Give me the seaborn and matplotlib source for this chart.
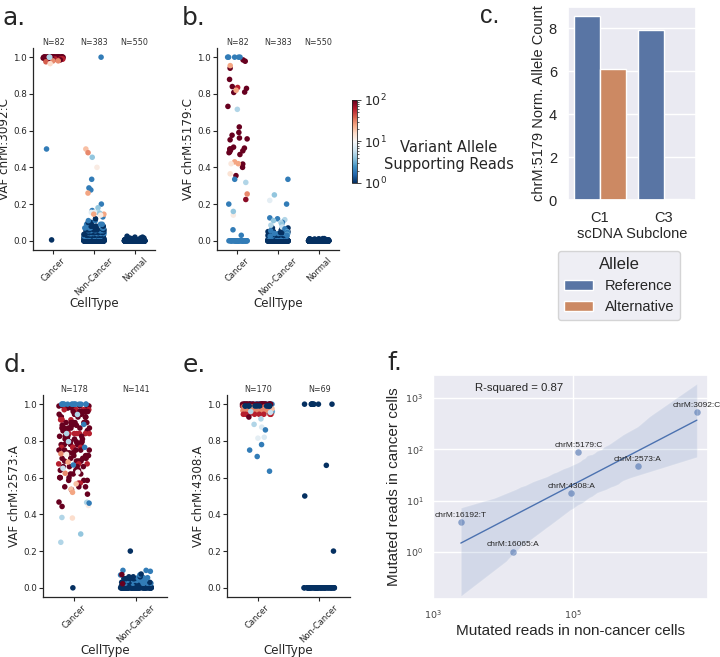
import numpy as np
import pandas as pd
import matplotlib
matplotlib.use("Agg")
import matplotlib.pyplot as plt
from matplotlib.colors import LogNorm
from matplotlib.cm import ScalarMappable
import seaborn as sns

# ---------------- data: (VAF, alt supporting reads, number of cells) ----------------
cell_types = ["Cancer", "Non-Cancer", "Normal"]

# a. chrM:3092:C
a_cancer_vaf = [1.0, 0.995, 0.99, 0.985, 0.98, 0.975, 0.965, 1.0, 0.5, 0.005]
a_cancer_reads = [100, 100, 60, 100, 30, 40, 15, 5, 2, 1]
a_cancer_cells = [48, 15, 6, 5, 2, 1, 1, 2, 1, 1]
a_noncancer_vaf = [0.0, 0.005, 0.01, 0.015, 0.02, 0.025, 0.03, 0.035, 0.04, 0.045, 0.05,
                   0.055, 0.06, 0.065, 0.07, 0.08, 0.09, 0.1, 0.11, 0.12, 0.13,
                   1.0, 0.5, 0.48, 0.455, 0.40, 0.335, 0.288, 0.277, 0.26, 0.2, 0.18,
                   0.165, 0.155, 0.155, 0.145, 0.15, 0.14]
a_noncancer_reads = [1, 1, 1, 1, 1, 2, 1, 1, 2, 1, 1, 2, 1, 1, 2, 1, 2, 1, 2, 1, 2,
                     2, 20, 30, 4, 12, 2, 2, 2, 25, 2, 4, 2, 5, 8, 25, 4, 12]
a_noncancer_cells = [200, 20, 18, 14, 14, 10, 12, 10, 10, 8, 9, 6, 7, 5, 5, 5, 3, 3, 2, 1, 1,
                     1, 1, 1, 1, 1, 1, 1, 1, 1, 1, 1, 1, 2, 2, 2, 1, 1]
a_normal_vaf = [0.0, 0.005, 0.01, 0.015, 0.02, 0.025]
a_normal_reads = [1, 1, 1, 1, 1, 1]
a_normal_cells = [520, 15, 8, 4, 2, 1]

# b. chrM:5179:C
b_cancer_vaf = [0.985, 0.978, 0.94, 0.879, 0.84, 0.835, 0.83, 0.81, 0.808, 0.732, 0.62, 0.59,
                0.575, 0.56, 0.555, 0.55, 0.51, 0.505, 0.50, 0.495, 0.49, 0.485, 0.48, 0.47,
                0.418, 0.40, 0.355, 0.225,
                0.954, 0.82, 0.43, 0.42, 0.42, 0.365, 0.255, 0.14, 0.716, 0.318, 0.16,
                1.0, 0.335, 0.2, 0.06, 0.03, 0.0]
b_cancer_reads = [100, 100, 100, 100, 100, 60, 100, 100, 100, 100, 100, 100,
                  100, 100, 100, 100, 100, 100, 100, 100, 100, 100, 100, 100,
                  100, 100, 100, 80,
                  25, 25, 25, 25, 13, 14, 30, 12, 5, 5, 4,
                  2, 2, 2, 2, 2, 2]
b_cancer_cells = [1, 1, 1, 1, 1, 1, 1, 1, 1, 1, 1, 1,
                  1, 1, 1, 1, 1, 1, 2, 1, 1, 1, 1, 1,
                  1, 1, 1, 1,
                  1, 1, 1, 1, 1, 1, 1, 1, 1, 1, 1,
                  5, 1, 1, 1, 1, 33]
b_noncancer_vaf = [0.0, 0.005, 0.01, 0.015, 0.02, 0.025, 0.03, 0.035, 0.04, 0.045, 0.05, 0.06, 0.07,
                   0.335, 0.25, 0.22, 0.2, 0.125, 0.12, 0.115, 0.11, 0.10, 0.10, 0.09, 0.085,
                   0.075, 0.065, 0.055, 0.05, 0.045, 0.04, 0.035, 0.03, 0.025]
b_noncancer_reads = [1, 1, 1, 1, 1, 2, 1, 1, 2, 1, 1, 1, 1,
                     2, 4, 8, 2, 2, 2, 5, 4, 2, 5, 4, 5,
                     6, 2, 2, 3, 2, 2, 3, 2, 2]
b_noncancer_cells = [250, 20, 18, 14, 12, 10, 10, 8, 6, 5, 4, 3, 2,
                     1, 1, 1, 1, 1, 1, 1, 1, 1, 1, 1, 1,
                     1, 1, 1, 1, 1, 1, 1, 1, 1]
b_normal_vaf = [0.0, 0.005, 0.01, 0.012]
b_normal_reads = [1, 1, 1, 1]
b_normal_cells = [530, 12, 6, 2]

# d. chrM:2573:A
d_cancer_vaf = [0.99, 0.98, 0.97, 0.96, 0.945, 0.93, 0.915, 0.90, 0.885, 0.87, 0.855, 0.84,
                0.825, 0.81, 0.795, 0.78, 0.765, 0.75, 0.735, 0.72, 0.705, 0.69, 0.675, 0.66,
                0.64, 0.62, 0.60, 0.585, 0.57, 0.55, 0.535, 0.51, 0.467, 0.443,
                1.0,
                0.73, 0.685, 0.624, 0.566, 0.537, 0.52, 0.38,
                0.944, 0.84, 0.796, 0.727, 0.651, 0.63, 0.465, 0.465, 0.448, 0.383, 0.293, 0.248,
                0.89, 0.765, 0.669, 0.461, 0.0]
d_cancer_reads = [100, 100, 60, 100, 100, 100, 60, 100, 100, 100, 100, 60,
                  100, 100, 100, 100, 60, 100, 100, 100, 100, 100, 60, 100,
                  100, 100, 100, 100, 60, 100, 100, 100, 100, 100,
                  2,
                  30, 25, 30, 20, 20, 25, 15,
                  5, 5, 5, 12, 6, 10, 5, 5, 12, 5, 4, 5,
                  2, 2, 2, 2, 1]
d_cancer_cells = [5, 6, 4, 6, 4, 6, 4, 6, 4, 6, 4, 6,
                  6, 4, 6, 6, 4, 5, 4, 5, 4, 5, 3, 4,
                  3, 3, 4, 3, 2, 3, 1, 1, 1, 1,
                  15,
                  1, 1, 1, 1, 1, 1, 1,
                  1, 1, 1, 1, 1, 1, 1, 1, 1, 1, 1, 1,
                  1, 1, 1, 1, 1]
d_noncancer_vaf = [0.0, 0.005, 0.01, 0.02, 0.025, 0.03, 0.04, 0.05, 0.055, 0.06, 0.07, 0.075,
                   0.09, 0.095, 0.2, 0.072, 0.022]
d_noncancer_reads = [1, 1, 1, 1, 2, 1, 2, 1, 2, 1, 2, 1, 2, 2, 1, 100, 100]
d_noncancer_cells = [80, 10, 8, 7, 6, 5, 5, 5, 3, 3, 2, 1, 1, 2, 1, 1, 1]

# e. chrM:4308:A
e_cancer_vaf = [0.97, 0.98, 0.955, 0.95, 0.96, 1.0, 1.0, 0.99, 0.985, 0.975, 0.965, 0.945, 0.99,
                0.93, 0.96, 0.955, 0.92, 0.89, 0.875, 0.86, 0.82, 0.815, 0.78, 0.75, 0.715, 0.635]
e_cancer_reads = [10, 5, 4, 15, 3, 2, 100, 100, 40, 20, 30, 60, 1,
                  100, 5, 6, 5, 5, 7, 2, 7, 8, 2, 2, 2, 2]
e_cancer_cells = [10, 8, 8, 8, 6, 18, 24, 20, 12, 14, 10, 8, 11,
                  1, 1, 1, 1, 1, 1, 1, 1, 1, 1, 1, 1, 1]
e_noncancer_vaf = [1.0, 0.667, 0.5, 0.2, 0.0]
e_noncancer_reads = [1, 1, 1, 1, 1]
e_noncancer_cells = [9, 1, 1, 1, 57]

# c. normalised allele counts per subclone
c_subclone = ["C1", "C1", "C3", "C3"]
c_allele = ["Reference", "Alternative", "Reference", "Alternative"]
c_count = [8.55, 6.1, 7.92, 0.04]

# f. mutated reads per site
f_site = ["chrM:3092:C", "chrM:5179:C", "chrM:2573:A", "chrM:4308:A", "chrM:16192:T", "chrM:16065:A"]
f_noncancer = [5.9e6, 1.2e5, 8.5e5, 9.4e4, 2.5e3, 1.4e4]
f_cancer = [535, 88, 47, 14, 3.8, 1]


def strip_frame(groups):
    parts = []
    for cell_type, vaf, reads, cells in groups:
        parts.append(pd.DataFrame({"CellType": cell_type,
                                   "VAF": np.repeat(vaf, cells),
                                   "Reads": np.repeat(reads, cells)}))
    return pd.concat(parts, ignore_index=True)


df_a = strip_frame([("Cancer", a_cancer_vaf, a_cancer_reads, a_cancer_cells),
                    ("Non-Cancer", a_noncancer_vaf, a_noncancer_reads, a_noncancer_cells),
                    ("Normal", a_normal_vaf, a_normal_reads, a_normal_cells)])
df_b = strip_frame([("Cancer", b_cancer_vaf, b_cancer_reads, b_cancer_cells),
                    ("Non-Cancer", b_noncancer_vaf, b_noncancer_reads, b_noncancer_cells),
                    ("Normal", b_normal_vaf, b_normal_reads, b_normal_cells)])
df_d = strip_frame([("Cancer", d_cancer_vaf, d_cancer_reads, d_cancer_cells),
                    ("Non-Cancer", d_noncancer_vaf, d_noncancer_reads, d_noncancer_cells)])
df_e = strip_frame([("Cancer", e_cancer_vaf, e_cancer_reads, e_cancer_cells),
                    ("Non-Cancer", e_noncancer_vaf, e_noncancer_reads, e_noncancer_cells)])

df_c = pd.DataFrame({"Subclone": c_subclone, "Allele": c_allele, "Count": c_count})
df_f = pd.DataFrame({"site": f_site,
                     "x": np.log10(f_noncancer),
                     "y": np.log10(f_cancer)})

# ---------------- figure ----------------
sns.set_theme(style="ticks")
plt.rcParams["font.family"] = "DejaVu Sans"
np.random.seed(7)

W, H = 720, 657
fig = plt.figure(figsize=(W / 100, H / 100), dpi=100)


def px_axes(left, top, right, bottom):
    return fig.add_axes([left / W, 1 - bottom / H, (right - left) / W, (bottom - top) / H])


read_norm = LogNorm(vmin=1, vmax=100)
ARIAL = "Liberation Sans"


def strip_panel(ax, df, order, ylabel):
    sns.stripplot(data=df, x="CellType", y="VAF", hue="Reads", order=order,
                  palette="RdBu_r", hue_norm=read_norm, jitter=0.25, size=4,
                  linewidth=0, legend=False, ax=ax)
    counts = df["CellType"].value_counts()
    for i, ct in enumerate(order):
        ax.text(i, 1.005, f"N={counts[ct]}", transform=ax.get_xaxis_transform(),
                ha="center", va="bottom", fontsize=5.8, color="#333333")
    ax.set_ylim(-0.05, 1.05)
    ax.set_yticks([0, 0.2, 0.4, 0.6, 0.8, 1.0])
    ax.set_ylabel(ylabel, fontsize=8.6, labelpad=1)
    ax.set_xlabel("CellType", fontsize=8.6, labelpad=0)
    ax.tick_params(axis="x", labelrotation=45, labelsize=6, length=3, width=0.8, pad=1)
    ax.tick_params(axis="y", labelsize=6.3, length=3, width=0.8, pad=1.5)
    for s in ax.spines.values():
        s.set_linewidth(0.9)
    sns.despine(ax=ax)


ax_a = px_axes(33, 48, 155, 250)
strip_panel(ax_a, df_a, cell_types, "VAF chrM:3092:C")
ax_b = px_axes(217, 48, 339, 250)
strip_panel(ax_b, df_b, cell_types, "VAF chrM:5179:C")
ax_d = px_axes(43, 395, 167, 597)
strip_panel(ax_d, df_d, cell_types[:2], "VAF chrM:2573:A")
ax_e = px_axes(227, 395, 350, 597)
strip_panel(ax_e, df_e, cell_types[:2], "VAF chrM:4308:A")

# colour bar for supporting reads
cax = px_axes(352, 100, 357, 183)
cb = fig.colorbar(ScalarMappable(norm=read_norm, cmap="RdBu_r"), cax=cax)
cb.outline.set_linewidth(0.6)
cb.ax.tick_params(which="major", labelsize=9, length=3, width=0.6, pad=2)
cb.ax.tick_params(which="minor", length=1.6, width=0.5)
fig.text(449 / W, 1 - 156 / H, "Variant Allele\nSupporting Reads", ha="center", va="center",
         fontsize=10.5, linespacing=1.1)

# c. bar chart
with sns.axes_style("darkgrid"):
    ax_c = px_axes(568, 7, 696, 200)
    sns.barplot(data=df_c, x="Subclone", y="Count", hue="Allele", ax=ax_c)
    ax_c.set_xlabel("scDNA Subclone", fontsize=10.5, fontfamily=ARIAL, labelpad=1)
    ax_c.set_ylabel("chrM:5179 Norm. Allele Count", fontsize=10.5, fontfamily=ARIAL, labelpad=2)
    ax_c.tick_params(labelsize=10.5, labelfontfamily=ARIAL, pad=2)
    sns.move_legend(ax_c, "upper left", bbox_to_anchor=(558 / W, 1 - 251 / H),
                    bbox_transform=fig.transFigure, title="Allele",
                    prop={"family": ARIAL, "size": 10.5}, borderaxespad=0,
                    title_fontproperties={"family": ARIAL, "size": 12})

# f. regression of cancer vs non-cancer mutated reads
with sns.axes_style("darkgrid"):
    ax_f = px_axes(433, 375, 708, 599)
    sns.regplot(data=df_f, x="x", y="y", ax=ax_f, seed=1,
                scatter_kws={"s": 22, "alpha": 0.6, "linewidths": 0},
                line_kws={"linewidth": 1})
    for _, row in df_f.iterrows():
        ax_f.annotate(row["site"], (row["x"], row["y"]), xytext=(0, 2.5),
                      textcoords="offset points", ha="center", va="bottom",
                      fontsize=6.0, fontfamily=ARIAL, color="#262626",
                      annotation_clip=False)
    ax_f.set_xlim(3.0, 6.93)
    ax_f.set_ylim(-0.92, 3.45)
    ax_f.set_xticks([3, 5])
    ax_f.set_xticklabels(["$10^{3}$", "$10^{5}$"])
    ax_f.set_yticks([0, 1, 2, 3])
    ax_f.set_yticklabels(["$10^{0}$", "$10^{1}$", "$10^{2}$", "$10^{3}$"])
    ax_f.tick_params(labelsize=6.8, pad=1, labelcolor="#444444")
    ax_f.set_xlabel("Mutated reads in non-cancer cells", fontsize=11, fontfamily=ARIAL, labelpad=2)
    ax_f.set_ylabel("Mutated reads in cancer cells", fontsize=11, fontfamily=ARIAL, labelpad=3)
    ax_f.text(0.153, 0.94, "R-squared = 0.87", transform=ax_f.transAxes, va="center",
              fontsize=8.2, fontfamily=ARIAL)

# panel letters
for letter, x, y, fam in [("a.", 3, 25, "DejaVu Sans"), ("b.", 182, 25, "DejaVu Sans"),
                          ("c.", 480, 23, ARIAL), ("d.", 4, 372, "DejaVu Sans"),
                          ("e.", 183, 372, "DejaVu Sans"), ("f.", 387, 370, "DejaVu Sans")]:
    fig.text(x / W, 1 - y / H, letter, fontsize=18, va="baseline", ha="left", fontfamily=fam)

fig.savefig("out.png", dpi=100)
